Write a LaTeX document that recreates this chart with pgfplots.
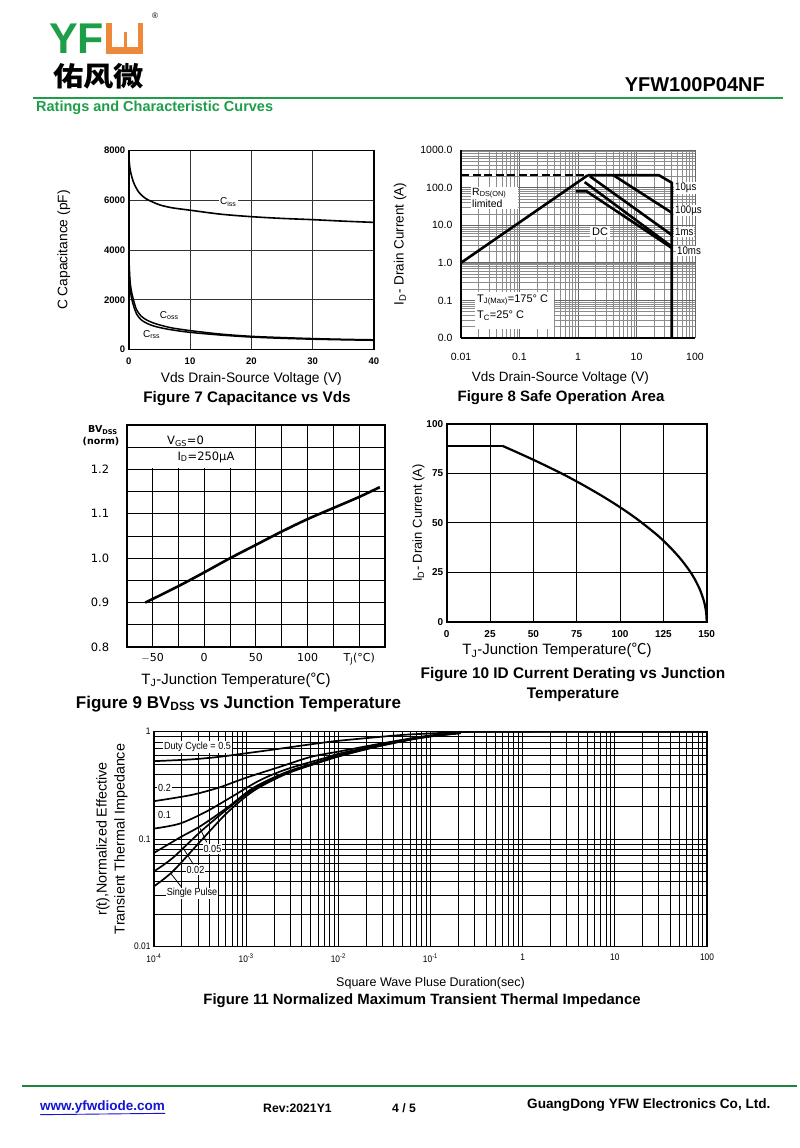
\documentclass[border=0pt]{standalone}
\usepackage{fontspec}
\setmainfont{Liberation Sans}
\newfontfamily\cjk{Noto Sans CJK SC}
\newfontfamily\dv{DejaVu Sans}
\newfontfamily\nar[FakeStretch=0.88]{Liberation Sans}
\usepackage{pgfplots}
\pgfplotsset{compat=1.18}
\definecolor{yfgreen}{RGB}{30,158,72}
\definecolor{yforange}{RGB}{238,136,58}
\definecolor{linkblue}{RGB}{20,20,210}
\newcommand{\fs}[1]{\fontsize{#1}{#1}\selectfont}
\pgfplotsset{
  sheet/.style={scale only axis, anchor=north west, tick style={draw=none},
    /pgf/number format/assume math mode=true, scaled ticks=false,
    axis line style={line width=1.6pt}, grid style={black!80, line width=0.7pt},
    clip=true},
}
\begin{document}
\begin{tikzpicture}
\useasboundingbox[fill=white] (0pt,0pt) rectangle (800pt,-1148pt);

% ---------- Figure 7 ----------
\begin{axis}[sheet, at={(128.7pt,-150.5pt)}, width=245.3pt, height=199pt,
  xmin=0, xmax=40, ymin=0, ymax=8000,
  xtick={0,10,20,30,40}, ytick={0,2000,4000,6000,8000},
  xticklabels={0,10,20,30,40}, yticklabels={0,2000,4000,6000,8000},
  grid=major, ticklabel style={font=\bfseries\fs{9.5}}, xticklabel style={yshift=-5pt},
  ylabel={C Capacitance (pF)}, xlabel={Vds Drain-Source Voltage (V)},
  label style={font=\fs{13.8}},
  ylabel style={at={(axis description cs:-0.265,0.5)}, anchor=center},
  xlabel style={at={(axis description cs:0.5,-0.148)}, anchor=center}]
\addplot[line width=1.6pt, smooth] coordinates {(0,7800)(0.2,7280)(0.5,6950)(0.75,6745)(1.0,6600)(1.6,6340)(2.2,6180)(2.9,6050)(4,5920)(5.1,5810)(7,5700)(10,5600)(15,5440)(20,5340)(25,5270)(30,5220)(35,5160)(40,5110)};
\addplot[line width=1.5pt, smooth] coordinates {(0,4000)(0.1,3300)(0.2,2800)(0.4,2400)(0.65,2120)(1.0,1800)(1.3,1590)(2.0,1350)(2.9,1190)(4,1070)(5.1,985)(7,870)(10,760)(15,620)(20,530)(25,480)(30,440)(35,410)(40,390)};
\addplot[line width=1.5pt, smooth] coordinates {(0,3900)(0.1,3100)(0.2,2600)(0.4,2150)(0.65,1880)(1.0,1600)(1.3,1420)(2.0,1200)(2.9,1060)(4,950)(5.1,880)(7,790)(10,690)(15,580)(20,500)(25,450)(30,415)(35,390)(40,370)};
\end{axis}

% ---------- Figure 8 ----------
\begin{axis}[sheet, at={(461pt,-150pt)}, width=234pt, height=188pt,
  xmode=log, ymode=log, xmin=0.01, xmax=100, ymin=0.01, ymax=1000,
  xtick={0.01,0.1,1,10,100}, xticklabels={0.01,0.1,1,10,100},
  ytick={0.01,0.1,1,10,100,1000}, yticklabels={0.0,0.1,1.0,10.0,100.0,1000.0},
  axis x line*=bottom, axis y line*=left,
  grid=both, major grid style={black!60, line width=0.7pt},
  minor grid style={black!45, line width=0.6pt},
  ticklabel style={font=\fs{10.5}}, xticklabel style={yshift=-12pt},
  yticklabel style={xshift=-5pt},
  ylabel={I\textsubscript{D}- Drain Current (A)}, xlabel={Vds Drain-Source Voltage (V)},
  label style={font=\fs{13.5}},
  ylabel style={at={(axis description cs:-0.26,0.5)}, anchor=center},
  xlabel style={at={(axis description cs:0.425,-0.213)}, anchor=center}]
\addplot[line width=2.6pt, dash pattern=on 8pt off 3.5pt] coordinates {(0.01,215)(1.48,215)};
\addplot[line width=2.6pt] coordinates {(0.01,1.0)(1.48,215)};
\addplot[line width=2.6pt] coordinates {(1.48,215)(24,215)(40,135)(40,0.01)};
\addplot[line width=2.6pt] coordinates {(4.0,215)(40,21.5)};
\addplot[line width=2.6pt] coordinates {(1.6,200)(40,5.5)};
\addplot[line width=2.6pt] coordinates {(1.3,140)(40,2.7)};
\addplot[line width=2.6pt] coordinates {(0.92,80)(1.4,80)(40,2.5)};
\end{axis}

% ---------- Figure 9 ----------
\begin{axis}[sheet, at={(126.7pt,-425pt)}, width=258.3pt, height=222pt,
  xmin=-75, xmax=175, ymin=0.8, ymax=1.3,
  xtick={-50,0,50,100,150}, xticklabels={$-$50,0,50,100,T\textsubscript{J}(°C)},
  minor xtick={-25,25,75,125},
  ytick={0.8,0.9,1.0,1.1,1.2}, yticklabels={0.8,0.9,1.0,1.1,1.2},
  minor ytick={0.85,0.95,1.05,1.15,1.25},
  grid=both, major grid style={black, line width=0.9pt}, minor grid style={black, line width=0.9pt},
  axis line style={line width=2pt},
  ticklabel style={font=\dv\fs{11.5}}, xticklabel style={font=\dv\fs{11}, yshift=-3pt},
  yticklabel style={xshift=-14pt}]
\addplot[line width=2.6pt, smooth] coordinates {(-57,0.900)(-25,0.937)(0,0.968)(25,1.000)(50,1.030)(75,1.060)(100,1.088)(125,1.113)(150,1.138)(170,1.160)};
\end{axis}

% ---------- Figure 10 ----------
\begin{axis}[sheet, at={(446.7pt,-424pt)}, width=260pt, height=197.7pt,
  xmin=0, xmax=150, ymin=0, ymax=100,
  xtick={0,25,50,75,100,125,150}, xticklabels={0,25,50,75,100,125,150},
  ytick={0,25,50,75,100}, yticklabels={0,25,50,75,100},
  grid=major, major grid style={black, line width=0.8pt},
  axis line style={line width=2pt},
  ticklabel style={font=\bfseries\fs{10}}, xticklabel style={yshift=-5pt},
  ylabel={I\textsubscript{D}- Drain Current (A)},
  xlabel={T\textsubscript{J}-Junction Temperature({\cjk ℃})},
  label style={font=\fs{13}}, xlabel style={font=\fs{15}},
  ylabel style={at={(axis description cs:-0.108,0.5)}, anchor=center},
  xlabel style={at={(axis description cs:0.424,-0.147)}, anchor=center}]
\addplot[line width=2.2pt] coordinates {(0,89)(32,89)};
\addplot[line width=2.2pt, smooth] coordinates {(32,89)(40,85.9)(50,81.9)(60,77.7)(70,73.3)(80,68.5)(90,63.4)(100,57.9)(110,51.8)(120,44.9)(125,41.0)(130,36.6)(135,31.7)(140,25.9)(143,21.7)(146,16.4)(148,11.6)(149,8.2)(149.7,4.5)(150,0)};
\end{axis}

% ---------- Figure 11 ----------
\begin{axis}[sheet, at={(154pt,-731.5pt)}, width=553pt, height=215pt,
  xmode=log, ymode=log, xmin=1e-4, xmax=100, ymin=0.01, ymax=1,
  xtick={1e-4,1e-3,1e-2,1e-1,1,10,100},
  xticklabels={10\textsuperscript{-4},10\textsuperscript{-3},10\textsuperscript{-2},10\textsuperscript{-1},1,10,100},
  ytick={0.01,0.1,1}, yticklabels={0.01,0.1,1},
  grid=both, major grid style={black, line width=0.8pt}, minor grid style={black, line width=0.7pt},
  axis line style={line width=1.8pt},
  ticklabel style={font=\nar\fs{9.5}}, xticklabel style={yshift=-4pt},
  ylabel={r(t),Normalized Effective\\Transient Thermal Impedance},
  xlabel={Square Wave Pluse Duration(sec)},
  label style={font=\fs{12.5}},
  ylabel style={at={(axis description cs:-0.076,0.5)}, anchor=center, align=center, font=\fontsize{14.3}{18}\selectfont},
  xlabel style={at={(axis description cs:0.5,-0.172)}, anchor=center}]
\addplot[line width=1.7pt, smooth] coordinates {(1e-4,0.53)(2.5e-4,0.55)(5e-4,0.58)(9e-4,0.62)(2e-3,0.68)(4e-3,0.74)(7e-3,0.79)(1e-2,0.82)(2.4e-2,0.88)(5e-2,0.93)(0.1,0.96)(0.2,0.985)(0.35,1.0)(100,1.0)};
\addplot[line width=1.7pt, smooth] coordinates {(1e-4,0.225)(2.5e-4,0.256)(5e-4,0.30)(1e-3,0.372)(2.3e-3,0.468)(5e-3,0.58)(1e-2,0.65)(2.4e-2,0.75)(5.5e-2,0.85)(0.1,0.92)(0.2,0.97)(0.35,1.0)(100,1.0)};
\addplot[line width=1.7pt, smooth] coordinates {(1e-4,0.125)(1.9e-4,0.139)(3.7e-4,0.18)(7.2e-4,0.251)(1.4e-3,0.351)(2.75e-3,0.446)(7.4e-3,0.572)(1e-2,0.62)(2.4e-2,0.73)(5.5e-2,0.84)(0.1,0.91)(0.2,0.97)(0.35,1.0)(100,1.0)};
\addplot[line width=1.7pt, smooth] coordinates {(1e-4,0.0743)(1.9e-4,0.103)(3.2e-4,0.132)(6.2e-4,0.195)(1.2e-3,0.30)(2.75e-3,0.42)(7.4e-3,0.552)(1e-2,0.60)(2.4e-2,0.72)(5.5e-2,0.835)(0.1,0.905)(0.2,0.965)(0.35,1.0)(100,1.0)};
\addplot[line width=1.7pt, smooth] coordinates {(1e-4,0.050)(1.6e-4,0.0668)(3.2e-4,0.117)(6.2e-4,0.189)(1.2e-3,0.29)(2.75e-3,0.41)(7.4e-3,0.545)(1e-2,0.59)(2.4e-2,0.715)(5.5e-2,0.83)(0.1,0.90)(0.2,0.96)(0.35,1.0)(100,1.0)};
\addplot[line width=1.7pt, smooth] coordinates {(1e-4,0.0363)(1.6e-4,0.050)(3.2e-4,0.0955)(6.2e-4,0.175)(1.2e-3,0.28)(2.75e-3,0.405)(7.4e-3,0.54)(1e-2,0.585)(2.4e-2,0.71)(5.5e-2,0.825)(0.1,0.90)(0.2,0.96)(0.35,1.0)(100,1.0)};
\end{axis}

% ---------- page furniture and annotations (pixel coordinates) ----------
\begin{scope}[x=1pt, y=-1pt]
% logo
\node[anchor=base west, inner sep=0pt, text=yfgreen, font=\bfseries\fs{43}] at (49,54) {YF};
\fill[yforange] (106,23) rectangle (143,54);
\fill[white] (112,23) rectangle (138,47);
\fill[yforange] (123.5,32) rectangle (126.5,47);
\node[font=\fs{8}, inner sep=0pt] at (155,16) {®};
\node[anchor=west, inner sep=0pt, font=\cjk\bfseries\fs{27}] at (53,76) {\scalebox{1.12}[1]{佑风微}};
\node[anchor=east, inner sep=0pt, font=\bfseries\fs{20}] at (765,85) {YFW100P04NF};
\draw[yfgreen, line width=2.2pt] (33,98) -- (783,98);
\node[anchor=west, inner sep=0pt, text=yfgreen, font=\bfseries\fs{14.5}] at (36,108) {Ratings and Characteristic Curves};

% fig 7 annotations and caption
\node[fill=white, inner sep=1.5pt, font=\fs{10}] at (228.3,202.3) {C\textsubscript{iss}};
\node[inner sep=0pt, font=\fs{10}] at (169.3,315.7) {C\textsubscript{oss}};
\node[inner sep=0pt, font=\fs{10}] at (151.7,334.3) {C\textsubscript{rss}};
\node[font=\bfseries\fs{15.3}] at (247,399) {Figure 7 Capacitance vs Vds};

% fig 8 annotations and caption
\fill[white] (470.5,187) rectangle (518,209);
\node[anchor=west, inner sep=0pt, font=\fs{10.5}] at (472,193) {R\textsubscript{DS(ON)}};
\node[anchor=west, inner sep=0pt, font=\fs{10.5}] at (472,203.5) {limited};
\node[fill=white, inner sep=2pt, font=\fs{11}] at (600,231.5) {DC};
\fill[white] (475,291.5) rectangle (554,328.5);
\node[anchor=west, inner sep=0pt, font=\fs{11}] at (477,300) {T\textsubscript{J(Max)}=175° C};
\node[anchor=west, inner sep=0pt, font=\fs{11}] at (477,316) {T\textsubscript{C}=25° C};
\node[anchor=west, fill=white, inner sep=1pt, font=\nar\fs{11}] at (674,188) {10µs};
\node[anchor=west, fill=white, inner sep=1pt, font=\nar\fs{11}] at (674,210.5) {100µs};
\node[anchor=west, fill=white, inner sep=1pt, font=\nar\fs{11}] at (674,232) {1ms};
\node[anchor=west, fill=white, inner sep=1pt, font=\nar\fs{11}] at (676,251) {10ms};
\node[font=\bfseries\fs{15}] at (561,398) {Figure 8 Safe Operation Area};

% fig 9 annotations and caption
\fill[white] (127.7,426) rectangle (255.3,468.2);
\draw[black, line width=0.9pt] (127.7,447) -- (255.3,447);
\node[font=\dv\bfseries\fs{9.5}, inner sep=0pt] at (103,430) {BV\textsubscript{DSS}};
\node[font=\dv\bfseries\fs{9.5}, inner sep=0pt] at (101,442) {(norm)};
\node[font=\dv\fs{11.5}, inner sep=0pt] at (185.5,441) {V\textsubscript{GS}=0};
\node[font=\dv\fs{11.5}, inner sep=0pt] at (206,457) {I\textsubscript{D}=250µA};
\node[font=\fs{15}] at (236,680) {T\textsubscript{J}-Junction Temperature({\cjk ℃})};
\node[font=\bfseries\fs{17}] at (238.5,704) {Figure 9 BV\textsubscript{DSS} vs Junction Temperature};

% fig 10 caption
\node[font=\bfseries\fontsize{15.4}{20}\selectfont, align=center] at (573,684.5) {Figure 10 ID Current Derating vs Junction\\Temperature};

% fig 11 annotations and caption
\node[fill=white, inner sep=1pt, font=\nar\fs{10.3}] at (197.5,746.7) {Duty Cycle = 0.5};
\node[fill=white, inner sep=1pt, font=\nar\fs{10.3}] at (164.5,788.3) {0.2};
\node[fill=white, inner sep=1pt, font=\nar\fs{10.3}] at (164.5,815) {0.1};
\node[fill=white, inner sep=1pt, font=\nar\fs{10.3}] at (212.5,849) {0.05};
\node[fill=white, inner sep=1pt, font=\nar\fs{10.3}] at (195.5,870) {0.02};
\node[fill=white, inner sep=1pt, font=\nar\fs{10.3}] at (192,893.3) {Single Pulse};
\draw[line width=0.8pt] (206.7,842.3) -- (200,828.3);
\draw[line width=0.8pt] (193.3,864.3) -- (183.3,848.3);
\draw[line width=0.8pt] (181.7,887.3) -- (170.7,873.3);
\node[font=\bfseries\fs{14.9}] at (422,1001) {Figure 11 Normalized Maximum Transient Thermal Impedance};

% footer
\draw[yfgreen!85!black, line width=2pt] (22,1085.5) -- (797,1085.5);
\node[anchor=west, inner sep=0pt, text=linkblue, font=\bfseries\fs{13.5}] (url) at (40,1107) {www.yfwdiode.com};
\draw[linkblue, line width=0.9pt] (url.south west) ++(0,1.2) -- (url.south east |- 0,{1107+6.3});
\node[anchor=west, inner sep=0pt, font=\bfseries\fs{12.2}] at (263,1108) {Rev:2021Y1};
\node[anchor=west, inner sep=0pt, font=\bfseries\fs{12.2}] at (392,1108) {4 / 5};
\node[anchor=west, inner sep=0pt, font=\bfseries\fs{13.6}] at (527,1105) {GuangDong YFW Electronics Co, Ltd.};
\end{scope}
\end{tikzpicture}
\end{document}
